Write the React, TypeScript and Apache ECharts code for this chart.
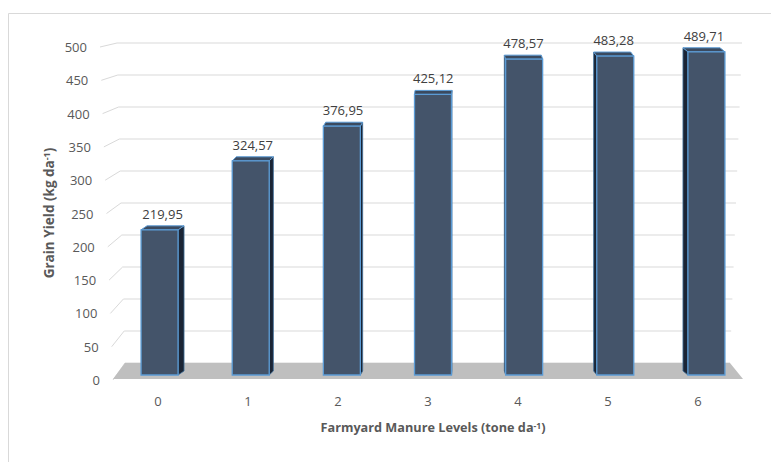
import React, { useEffect, useRef } from "react";
import * as echarts from "echarts";

// ---- data ----
const categories = ["0", "1", "2", "3", "4", "5", "6"];
const grainYield = [219.95, 324.57, 376.95, 425.12, 478.57, 483.28, 489.71];
const yTicks = [0, 50, 100, 150, 200, 250, 300, 350, 400, 450, 500];
const yTickLabels = ["0", "50", "100", "150", "200", "250", "300", "350", "400", "450", "500"];
const Y_MAX = 500;

const FONT = "'Open Sans', 'Noto Sans', 'DejaVu Sans', sans-serif";

const fmt = (v: number) => v.toFixed(2).replace(".", ",");

export default function App() {
  const ref = useRef<HTMLDivElement>(null);

  useEffect(() => {
    if (!ref.current) return;
    const chart = echarts.init(ref.current, null, { renderer: "svg" });

    const option: any = {
      animation: false,
      backgroundColor: "#ffffff",
      grid: [
        // back wall
        { left: 120, right: 31, top: 43, bottom: 99 },
        // front plane (axis labels)
        { left: 113, right: 28, top: 47, bottom: 82 },
        // bars plane
        { left: 114, right: 19, top: 45, bottom: 87 },
      ],
      xAxis: [
        { gridIndex: 0, type: "category", data: categories, show: false },
        {
          gridIndex: 1,
          type: "category",
          data: categories,
          axisLine: { show: false },
          axisTick: { show: false },
          splitLine: { show: false },
          axisLabel: { margin: 14, color: "#595959", fontSize: 13, fontFamily: FONT },
        },
        { gridIndex: 2, type: "category", data: categories, show: false },
      ],
      yAxis: [
        { gridIndex: 0, type: "value", min: 0, max: Y_MAX, interval: 50, show: false },
        { gridIndex: 1, type: "value", min: 0, max: Y_MAX, interval: 50, show: false },
        { gridIndex: 2, type: "value", min: 0, max: Y_MAX, interval: 50, show: false },
      ],
      graphic: [
        {
          type: "rect",
          silent: true,
          shape: { x: 8.5, y: 13.5, width: 800, height: 500 },
          style: { fill: "none", stroke: "#d9d9d9", lineWidth: 1 },
        },
        {
          type: "text",
          x: 433,
          y: 427,
          style: {
            text: "Farmyard Manure Levels (tone da{sup|-1})",
            align: "center",
            verticalAlign: "middle",
            fill: "#595959",
            font: `bold 12.7px ${FONT}`,
            rich: {
              sup: { fontSize: 8.5, fontWeight: "bold", fontFamily: FONT, fill: "#595959", verticalAlign: "top" },
            },
          },
        },
        {
          type: "text",
          x: 49,
          y: 213,
          rotation: Math.PI / 2,
          style: {
            text: "Grain Yield (kg da{sup|-1})",
            align: "center",
            verticalAlign: "middle",
            fill: "#595959",
            font: `bold 13.5px ${FONT}`,
            rich: {
              sup: { fontSize: 9, fontWeight: "bold", fontFamily: FONT, fill: "#595959", verticalAlign: "top" },
            },
          },
        },
      ],
      series: [
        // gridlines with perspective side wall + tick labels
        {
          type: "custom",
          xAxisIndex: 0,
          yAxisIndex: 0,
          silent: true,
          data: yTicks.map((v) => [0, v]),
          encode: { x: 0, y: 1 },
          renderItem: (params: any, api: any) => {
            const v = api.value(1);
            const t = v / Y_MAX;
            const by = api.coord([0, v])[1];
            const cs = params.coordSys;
            const bl = cs.x - 3 + 8 * (1 - t);
            const br = cs.x + cs.width + 2 - 12 * (1 - t);
            const fx = cs.x - 20 + 13 * (1 - t);
            const fy = by + 4 + 13 * (1 - t);
            return {
              type: "group",
              children: [
                {
                  type: "polyline",
                  shape: { points: [[fx, fy], [bl, by], [br, by]] },
                  style: { stroke: "#d9d9d9", lineWidth: 1, fill: "none" },
                },
                {
                  type: "text",
                  style: {
                    text: yTickLabels[params.dataIndex],
                    x: fx - 13,
                    y: fy,
                    align: "right",
                    verticalAlign: "middle",
                    fill: "#595959",
                    font: `13px ${FONT}`,
                  },
                },
              ],
            };
          },
        },
        // floor
        {
          type: "custom",
          xAxisIndex: 0,
          yAxisIndex: 0,
          silent: true,
          data: [[0, 0]],
          encode: { x: 0, y: 1 },
          renderItem: (params: any, api: any) => {
            const y0 = api.coord([0, 0])[1];
            const cs = params.coordSys;
            return {
              type: "polygon",
              shape: {
                points: [
                  [cs.x - 7, y0 + 16],
                  [cs.x + 5, y0],
                  [cs.x + cs.width - 10, y0],
                  [cs.x + cs.width + 3, y0 + 16],
                ],
              },
              style: { fill: "#bfbfbf", stroke: "none" },
            };
          },
        },
        // 3D bars
        {
          type: "custom",
          name: "Grain Yield",
          xAxisIndex: 2,
          yAxisIndex: 2,
          data: grainYield.map((v, i) => [i, v]),
          encode: { x: 0, y: 1 },
          renderItem: (params: any, api: any) => {
            const i = api.value(0);
            const v = api.value(1);
            const top = api.coord([i, v]);
            const base = api.coord([i, 0]);
            const w = 37;
            const cx = top[0];
            const l = cx - w / 2;
            const r = cx + w / 2;
            const dx = 0.02 * (458 - cx);
            const dy = -4;
            const e = dx > 0 ? r : l;
            const ty = top[1];
            const by = base[1];
            return {
              type: "group",
              children: [
                {
                  type: "polygon",
                  shape: { points: [[e, ty], [e + dx, ty + dy], [e + dx, by + dy], [e, by]] },
                  style: { fill: "#1b2535", stroke: "#41719c", lineWidth: 0.8, lineJoin: "round" },
                },
                {
                  type: "polygon",
                  shape: { points: [[l, ty], [l + dx, ty + dy], [r + dx, ty + dy], [r, ty]] },
                  style: { fill: "#3b4a5f", stroke: "#5b9bd5", lineWidth: 1, lineJoin: "round" },
                },
                {
                  type: "rect",
                  shape: { x: l, y: ty, width: w, height: by - ty },
                  style: { fill: "#44546a", stroke: "#5b9bd5", lineWidth: 1.3 },
                },
                {
                  type: "text",
                  style: {
                    text: fmt(v),
                    x: cx + dx / 2,
                    y: ty - 16,
                    align: "center",
                    verticalAlign: "middle",
                    fill: "#404040",
                    font: `13px ${FONT}`,
                  },
                },
              ],
            };
          },
        },
      ],
    };

    chart.setOption(option);
    return () => chart.dispose();
  }, []);

  return (
    <div
      ref={ref}
      style={{ position: "absolute", left: 0, top: 0, width: 771, height: 462, background: "#fff" }}
    />
  );
}
